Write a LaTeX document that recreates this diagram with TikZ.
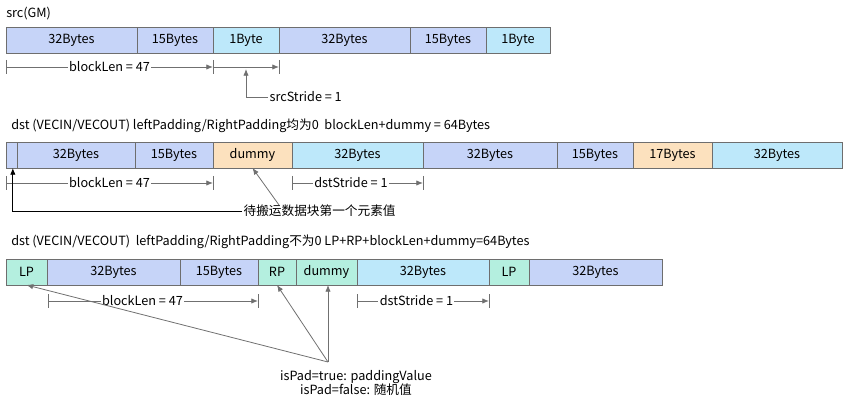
\documentclass[tikz,border=0pt]{standalone}
\usepackage{fontspec}
\setmainfont{Noto Sans CJK SC}
\usepackage{tikz}
\usetikzlibrary{positioning,arrows.meta}
\definecolor{blk}{HTML}{C6D4F8}
\definecolor{cyn}{HTML}{BDE8FA}
\definecolor{org}{HTML}{FCE1BE}
\definecolor{mnt}{HTML}{B4EFDF}
\definecolor{cellline}{HTML}{6E6E6E}
\definecolor{dimgray}{HTML}{707070}

\begin{document}
\begin{tikzpicture}[
		x=0.75pt, y=-0.75pt,
		font=\fontsize{9.5}{11}\selectfont,
		cell/.style={draw=cellline, line width=0.6pt, minimum height=19.5pt, inner sep=0pt, outer sep=0pt},
		w/.style={minimum width=#1*0.75pt},
		title/.style={anchor=west, inner sep=0pt},
		tick/.style={draw=dimgray, line width=0.6pt},
		dimarr/.style={draw=dimgray, line width=0.6pt, -{Latex[length=5pt,width=4pt]}},
		lbl/.style={fill=white, inner sep=1pt}
	]
	\useasboundingbox (0,0) rectangle (844,403);

	% src(GM)
	\node[title] (t1) at (6,14) {src(GM)};
	\node[cell, w=131, fill=blk, anchor=south west] (s1) at (6,53) {32Bytes};
	\node[cell, w=76, fill=blk, right=0pt of s1] (s2) {15Bytes};
	\node[cell, w=66, fill=cyn, right=0pt of s2] (s3) {1Byte};
	\node[cell, w=131, fill=blk, right=0pt of s3] (s4) {32Bytes};
	\node[cell, w=76, fill=blk, right=0pt of s4] (s5) {15Bytes};
	\node[cell, w=64, fill=cyn, right=0pt of s5] (s6) {1Byte};

	\coordinate (a1) at (6,67);
	\coordinate (a2) at (213,67);
	\coordinate (a3) at (279,67);
	\draw[tick] (a1) ++(0,-7) -- ++(0,14);
	\draw[tick] (a2) ++(0,-7) -- ++(0,14);
	\draw[tick] (a3) ++(0,-7) -- ++(0,14);
	\draw[dimarr] (a1) -- node[lbl] {blockLen = 47} (a2);
	\draw[dimarr] (a2) -- (a3);
	\coordinate (a4) at (246,69);
	\node[anchor=west, inner sep=1pt] (srcs) at (268,97) {srcStride = 1};
	\draw[dimarr] (srcs.west) -| (a4);

	% dst, no padding
	\node[title] (t2) at (11,126) {dst (VECIN/VECOUT) leftPadding/RightPadding均为0\ \ blockLen+dummy = 64Bytes};
	\node[cell, w=11, fill=blk, anchor=south west] (d0) at (6,168) {};
	\node[cell, w=118, fill=blk, right=0pt of d0] (d1) {32Bytes};
	\node[cell, w=78, fill=blk, right=0pt of d1] (d2) {15Bytes};
	\node[cell, w=79, fill=org, right=0pt of d2] (d3) {dummy};
	\node[cell, w=131, fill=cyn, right=0pt of d3] (d4) {32Bytes};
	\node[cell, w=134, fill=blk, right=0pt of d4] (d5) {32Bytes};
	\node[cell, w=76, fill=blk, right=0pt of d5] (d6) {15Bytes};
	\node[cell, w=79, fill=org, right=0pt of d6] (d7) {17Bytes};
	\node[cell, w=130, fill=cyn, right=0pt of d7] (d8) {32Bytes};

	\coordinate (b1) at (6,183);
	\coordinate (b2) at (213,183);
	\coordinate (b3) at (292,183);
	\coordinate (b4) at (423,183);
	\draw[tick] (b1) ++(0,-7) -- ++(0,14);
	\draw[tick] (b2) ++(0,-7) -- ++(0,14);
	\draw[tick] (b3) ++(0,-7) -- ++(0,14);
	\draw[tick] (b4) ++(0,-7) -- ++(0,14);
	\draw[dimarr] (b1) -- node[lbl] {blockLen = 47} (b2);
	\draw[dimarr] (b3) -- node[lbl, pos=0.45] {dstStride = 1} (b4);

	\node[anchor=west, inner sep=1pt] (first) at (242,211) {待搬运数据块第一个元素值};
	\draw[line width=0.6pt, -{Latex[length=5pt,width=4pt]}] (first.west) -| ([xshift=1pt]d0.south);
	\coordinate (b5) at (279,205);
	\draw[dimarr] (b5) -- (d3.south);

	% dst, with padding
	\node[title] (t3) at (11,242) {dst (VECIN/VECOUT)\ \ leftPadding/RightPadding不为0 LP+RP+blockLen+dummy=64Bytes};
	\node[cell, w=41, fill=mnt, anchor=south west] (p0) at (6,285) {LP};
	\node[cell, w=133, fill=blk, right=0pt of p0] (p1) {32Bytes};
	\node[cell, w=78, fill=blk, right=0pt of p1] (p2) {15Bytes};
	\node[cell, w=38, fill=mnt, right=0pt of p2] (p3) {RP};
	\node[cell, w=61, fill=mnt, right=0pt of p3] (p4) {dummy};
	\node[cell, w=132, fill=cyn, right=0pt of p4] (p5) {32Bytes};
	\node[cell, w=40, fill=mnt, right=0pt of p5] (p6) {LP};
	\node[cell, w=133, fill=blk, right=0pt of p6] (p7) {32Bytes};

	\coordinate (c1) at (48,301);
	\coordinate (c2) at (258,301);
	\coordinate (c3) at (357,301);
	\coordinate (c4) at (489,301);
	\draw[tick] (c1) ++(0,-7) -- ++(0,14);
	\draw[tick] (c2) ++(0,-7) -- ++(0,14);
	\draw[tick] (c3) ++(0,-7) -- ++(0,14);
	\draw[tick] (c4) ++(0,-7) -- ++(0,14);
	\draw[dimarr] (c1) -- node[lbl, pos=0.45] {blockLen = 47} (c2);
	\draw[dimarr] (c3) -- node[lbl, pos=0.45] {dstStride = 1} (c4);

	\coordinate (pad) at (328,362);
	\node[align=center, inner sep=0pt] (ispad) at (356,383) {isPad=true: paddingValue\\isPad=false: 随机值};
	\draw[dimarr] (pad) -- (p0.south);
	\draw[dimarr] (pad) -- (p3.south);
	\draw[dimarr] (pad) -- (pad |- p4.south);
\end{tikzpicture}
\end{document}
